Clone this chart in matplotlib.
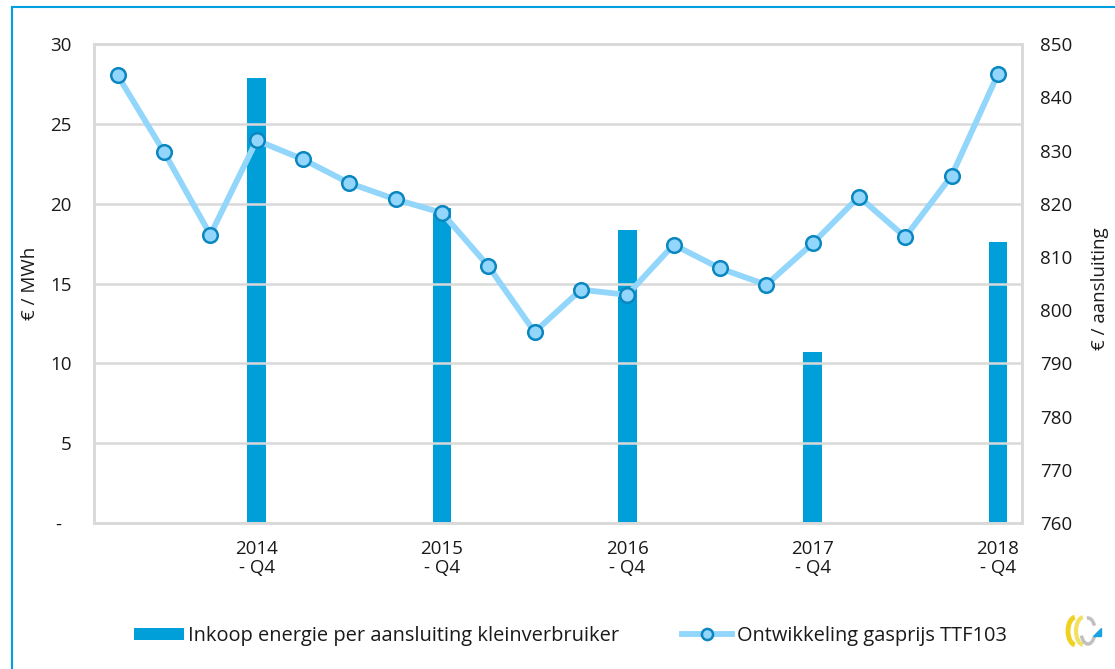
import matplotlib
matplotlib.use("Agg")
import matplotlib.pyplot as plt
import numpy as np
from matplotlib.patches import Arc, Polygon, Patch
from matplotlib.lines import Line2D

# ---------------- data ----------------
years = [2014, 2015, 2016, 2017, 2018]
quarters = [f"{y} - Q{q}" for y in years for q in range(1, 5)]
gas_price = [28.05, 23.25, 18.06, 23.98, 22.79, 21.30, 20.28, 19.44, 16.10, 11.97,
             14.62, 14.30, 17.44, 15.96, 14.93, 17.52, 20.45, 17.92, 21.76, 28.13]
bar_labels = ["2014 - Q4", "2015 - Q4", "2016 - Q4", "2017 - Q4", "2018 - Q4"]
inkoop = [843.7, 819.2, 815.0, 792.1, 812.8]
left_ticks = [0, 5, 10, 15, 20, 25, 30]
right_ticks = [760, 770, 780, 790, 800, 810, 820, 830, 840, 850]

BAR = "#009FDA"
LINE = "#92D6FB"
MEDGE = "#0A86C0"
GRID = "#D9D9D9"
TXT = "#1A1A1A"
TICKFONT = "Open Sans"
LEGFONT = "Open Sans"

W, H = 1115, 669
fig = plt.figure(figsize=(W / 100, H / 100), dpi=100)
fig.patch.set_facecolor("white")

def fx(px):
    return px / W

def fy(py):
    return 1 - py / H

ax_left, ax_right, ax_top, ax_bot = 93.6, 1022, 44.3, 523
axw = ax_right - ax_left
ax = fig.add_axes([fx(ax_left), fy(ax_bot), fx(axw), (ax_bot - ax_top) / H])
ax2 = ax.twinx()

x = np.arange(len(quarters))
bar_x = [quarters.index(l) for l in bar_labels]

# bars on right axis (drawn behind line)
ax2.bar(bar_x, inkoop, width=0.4, color=BAR, zorder=2)
ax2.set_ylim(760, 850)
ax2.set_yticks(right_ticks)

# line on left axis
ax.set_zorder(ax2.get_zorder() + 1)
ax.patch.set_visible(False)
ax.plot(x, gas_price, color=LINE, lw=4.2, marker="o", ms=10.5,
        mfc=LINE, mec=MEDGE, mew=1.8, zorder=5, solid_joinstyle="round")
ax.set_ylim(0, 30)
ax.set_xlim(-0.52, len(quarters) - 0.48)
ax.set_yticks(left_ticks)
ax.set_yticklabels(["-  " if t == 0 else str(t) for t in left_ticks])
ax.yaxis.grid(True, color=GRID, lw=1.8, zorder=0)
ax.set_axisbelow(True)

# only Q4 labels shown
ax.set_xticks(bar_x)
ax.set_xticklabels([l.replace(" - ", "\n- ") for l in bar_labels], linespacing=1.1)

for lab in ax.get_yticklabels() + ax2.get_yticklabels() + ax.get_xticklabels():
    lab.set_fontfamily(TICKFONT)
    lab.set_fontsize(13.5)
    lab.set_color(TXT)

ax.tick_params(axis="y", length=0, pad=16)
ax2.tick_params(axis="y", length=0, pad=13)
ax.tick_params(axis="x", length=0, pad=12)

for a in (ax, ax2):
    for s in a.spines.values():
        s.set_color(GRID)
        s.set_linewidth(1.8)

ax.set_ylabel("€ / MWh", fontfamily=TICKFONT, fontsize=13.5, color=TXT, va="center")
ax.yaxis.set_label_coords((30 - ax_left) / axw, 0.5)
ax2.set_ylabel("€ / aansluiting", fontfamily=TICKFONT, fontsize=13.5, color=TXT,
               va="center", rotation=90)
ax2.yaxis.set_label_coords((1100 - ax_left) / axw, 0.49)

# legend
handles = [Patch(facecolor=BAR, edgecolor="none"),
           Line2D([0], [0], color=LINE, lw=4.2, marker="o", ms=8, mfc=LINE, mec=MEDGE, mew=1.8)]
labels = ["Inkoop energie per aansluiting kleinverbruiker", "Ontwikkeling gasprijs TTF103"]
leg = fig.legend(handles, labels, loc="center", bbox_to_anchor=(fx(570), fy(636)),
                 ncol=2, frameon=False, handlelength=2.5, handleheight=0.6,
                 handletextpad=0.25, columnspacing=3.1,
                 prop=dict(family=LEGFONT, size=14.4))
for t in leg.get_texts():
    t.set_color(TXT)

# outer border (top and left)
fig.add_artist(Line2D([fx(12), 1], [fy(6.5), fy(6.5)], color="#00A0E0", lw=1.5,
                      transform=fig.transFigure))
fig.add_artist(Line2D([fx(12), fx(12)], [fy(6.5), 0], color="#00A0E0", lw=1.5,
                      transform=fig.transFigure))

# small logo
lax = fig.add_axes([fx(1062), fy(648), fx(42), 34 / H])
lax.set_xlim(0, 42)
lax.set_ylim(0, 34)
lax.axis("off")
lax.add_patch(Arc((14, 17), 16, 28, theta1=95, theta2=265, color="#F0D020", lw=3.5))
lax.add_patch(Arc((22, 17), 16, 28, theta1=95, theta2=265, color="#F2E060", lw=3))
lax.add_patch(Arc((26, 17), 14, 26, theta1=215, theta2=320, color="#C0C0C0", lw=2.5))
lax.add_patch(Arc((26, 17), 14, 26, theta1=40, theta2=95, color="#C0C0C0", lw=2.5))
lax.add_patch(Polygon([[31, 12], [39, 12], [39, 20]], closed=True, color="#1AA3E0"))

fig.savefig("out.png", dpi=100, facecolor="white")
